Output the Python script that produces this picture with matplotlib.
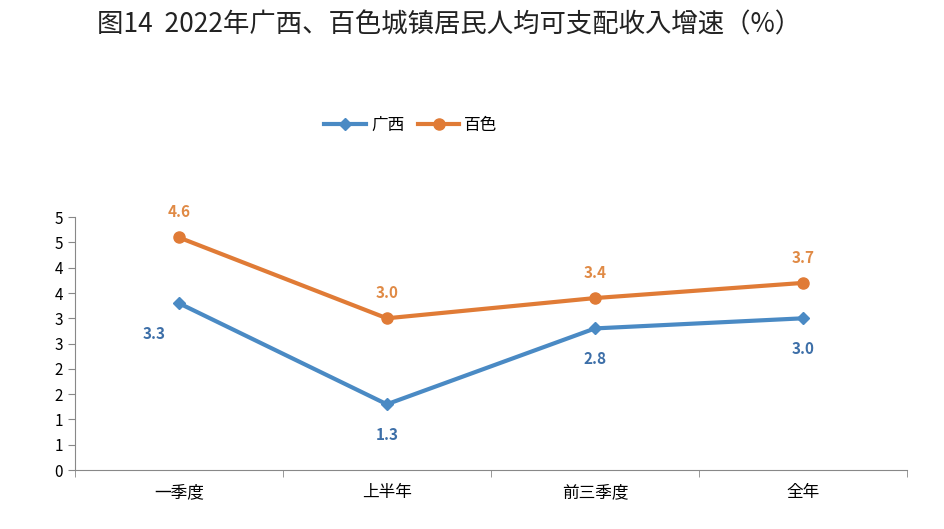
import matplotlib.pyplot as plt

plt.rcParams["font.family"] = "sans-serif"
plt.rcParams["font.sans-serif"] = ["Noto Sans CJK SC", "Noto Sans CJK JP", "Noto Sans CJK TC",
                                   "Noto Sans CJK KR", "DejaVu Sans"]

categories = ["一季度", "上半年", "前三季度", "全年"]
guangxi = [3.3, 1.3, 2.8, 3.0]
baise = [4.6, 3.0, 3.4, 3.7]
ytick_labels = ["0", "1", "1", "2", "2", "3", "3", "4", "4", "5", "5"]

BLUE = "#4a8ac4"
ORANGE = "#e07b36"

fig = plt.figure(figsize=(9.45, 5.29), dpi=100)
ax = fig.add_axes([0.079, 0.1115, 0.881, 0.478])

x = [i + 0.5 for i in range(len(categories))]
ax.plot(x, guangxi, color=BLUE, linewidth=3, marker="D", markersize=6, label="广西")
ax.plot(x, baise, color=ORANGE, linewidth=3, marker="o", markersize=8, label="百色")

for i, (xi, v) in enumerate(zip(x, guangxi)):
    off = (-18, -22) if i == 0 else (0, -22)
    ax.annotate(f"{v:.1f}", (xi, v), xytext=off, textcoords="offset points",
                ha="center", va="center", color="#3d6fa8", fontsize=11, fontweight="bold")
for xi, v in zip(x, baise):
    ax.annotate(f"{v:.1f}", (xi, v), xytext=(0, 18), textcoords="offset points",
                ha="center", va="center", color="#e08a45", fontsize=11, fontweight="bold")

ax.set_xlim(0, 4)
ax.set_ylim(0, 5.0)
ax.set_yticks([i * 0.5 for i in range(11)])
ax.set_yticklabels(ytick_labels, fontsize=11)
ax.set_xticks(x)
ax.set_xticklabels(categories, fontsize=12)
ax.set_xticks([0, 1, 2, 3, 4], minor=True)
ax.tick_params(axis="x", which="major", length=0, pad=10)
ax.tick_params(axis="x", which="minor", length=5, color="#888888")
ax.tick_params(axis="y", length=5, color="#888888")
for s in ["top", "right"]:
    ax.spines[s].set_visible(False)
for s in ["left", "bottom"]:
    ax.spines[s].set_color("#888888")

fig.legend(loc="center", bbox_to_anchor=(0.435, 0.763), ncol=2, frameon=False,
           fontsize=12, handlelength=2.5, columnspacing=0.8, handletextpad=0.3)
fig.text(0.475, 0.953, "图14  2022年广西、百色城镇居民人均可支配收入增速（%）",
         ha="center", va="center", fontsize=19, color="#222222")

fig.savefig("out.png", dpi=100)
